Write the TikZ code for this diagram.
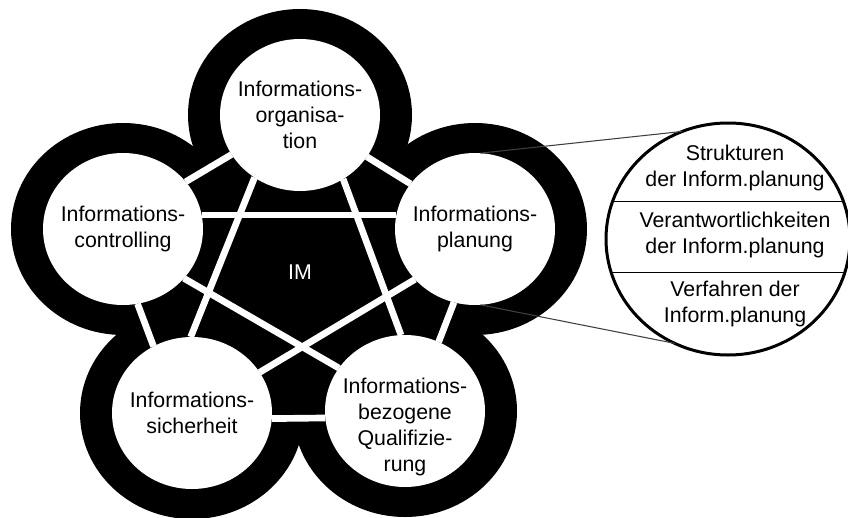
\documentclass[tikz,border=0pt]{standalone}
\usepackage{fontspec}
\setmainfont{Liberation Sans}
\usetikzlibrary{shapes.geometric}

\tikzset{
  field/.style={ellipse, fill=white, inner sep=0pt, outer sep=0pt,
    minimum width=120pt, minimum height=114pt},
  fieldtext/.style={font=\fontsize{16}{19.5}\selectfont, align=center},
  link/.style={white, line width=5pt},
  zoomline/.style={black!75, line width=0.8pt}
}

\begin{document}
\begin{tikzpicture}[x=0.75pt, y=-0.75pt]
  \useasboundingbox (0,0) rectangle (848,517);

  %Centers
  \coordinate (orga) at (300,115);
  \coordinate (plan) at (475,229);
  \coordinate (qual) at (405,411);
  \coordinate (sich) at (192,413);
  \coordinate (ctrl) at (123,229);

  %Black rings
  \fill (orga) -- (plan) -- (qual) -- (sich) -- (ctrl) -- cycle;
  \foreach \ctr in {orga,plan,qual,sich,ctrl}
    \fill (\ctr) circle [x radius=112, y radius=106];

  \node[fieldtext, white] (IM) at (300,272) {IM};

  %Fields
  \node[field] (Organisation) at (orga) {};
  \node[field] (Planung) at (plan) {};
  \node[field] (Qualifizierung) at (qual) {};
  \node[field] (Sicherheit) at (sich) {};
  \node[field] (Controlling) at (ctrl) {};

  \node[fieldtext] (OrganisationText) at (Organisation) {Informations-\\organisa-\\tion};
  \node[fieldtext] (PlanungText) at (Planung) {Informations-\\planung};
  \node[fieldtext] (QualifizierungText) at (405,427) {Informations-\\bezogene\\Qualifizie-\\rung};
  \node[fieldtext] (SicherheitText) at (Sicherheit) {Informations-\\sicherheit};
  \node[fieldtext] (ControllingText) at (Controlling) {Informations-\\controlling};

  %Pentagon
  \draw[link] (Organisation.-32) -- (Planung.145);
  \draw[link] (Planung.-106) -- (Qualifizierung.64);
  \draw[link] (Qualifizierung.185) -- (Sicherheit.-4);
  \draw[link] (Sicherheit.120) -- (Controlling.-79);
  \draw[link] (Controlling.37) -- (Organisation.210);

  %Star
  \draw[link] (Controlling.10) -- (Planung.170);
  \draw[link] (Organisation.-126) -- (Sicherheit.91);
  \draw[link] (Organisation.-56) -- (Qualifizierung.93);
  \draw[link] (Controlling.-39) -- (Qualifizierung.147);
  \draw[link] (Planung.-140) -- (Sicherheit.31);

  %Detail
  \node[draw, ellipse, fill=white, line width=2.25pt, inner sep=0pt, outer sep=0pt,
    minimum width=183pt, minimum height=174pt] (Detail) at (728,239) {};
  \draw[line width=1.2pt] (Detail.162) -- (Detail.18);
  \draw[line width=1.2pt] (Detail.196) -- (Detail.-16);

  \node[fieldtext] (Strukturen) at (735,168) {Strukturen\\der Inform.planung};
  \node[fieldtext] (Verantwortung) at (735,235) {Verantwortlichkeiten\\der Inform.planung};
  \node[fieldtext] (Verfahren) at (735,304) {Verfahren der\\Inform.planung};

  \draw[zoomline] (Planung.86) -- (Detail.113);
  \draw[zoomline] (Planung.-86) -- (Detail.-117);
\end{tikzpicture}
\end{document}
